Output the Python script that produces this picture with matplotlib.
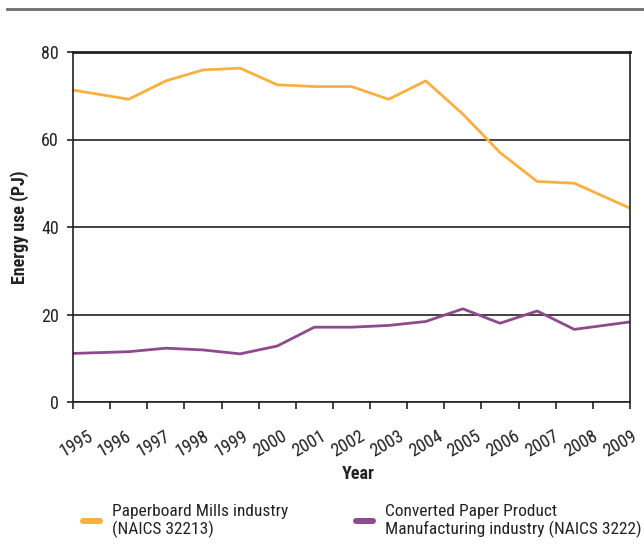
import numpy as np
import matplotlib
matplotlib.use('Agg')
import matplotlib.pyplot as plt
from matplotlib.lines import Line2D

plt.rcParams['font.family'] = ['Roboto Condensed', 'DejaVu Sans']

years = ['1995', '1996', '1997', '1998', '1999', '2000', '2001', '2002',
         '2003', '2004', '2005', '2006', '2007', '2008', '2009']
paperboard = [71.3, 69.2, 73.4, 75.9, 76.3, 72.5, 72.1, 72.1,
              69.2, 73.4, 65.8, 57.0, 50.4, 50.0, 44.3]
converted = [11.1, 11.5, 12.3, 11.9, 11.0, 12.8, 17.1, 17.1,
             17.5, 18.4, 21.3, 18.0, 20.8, 16.6, 18.3]

orange = '#F9B040'
purple = '#8E4A8C'
ink = '#222222'

# the original chart puts the first and last point on the axis edges and
# the rest half way between the 16 tick marks
x_pos = np.arange(len(years)) + 0.5
x_pos[0] = 0
x_pos[-1] = len(years)
label_pos = np.linspace(0.08, 14.73, len(years))

fig = plt.figure(figsize=(6.44, 5.44), dpi=100)
ax = fig.add_axes([73/644, 1 - 402/544, 557/644, 350/544])

ax.plot(x_pos, paperboard, color=orange, lw=2)
ax.plot(x_pos, converted, color=purple, lw=2)

ax.set_xlim(0, len(years))
ax.set_ylim(0, 80)
ax.set_yticks([0, 20, 40, 60, 80])
ax.yaxis.grid(True, color=ink, lw=1.2)
ax.set_axisbelow(True)

ax.set_xticks(np.arange(len(years) + 1))
ax.set_xticklabels([])
ax.set_xticks(label_pos, minor=True)
ax.set_xticklabels(years, minor=True, rotation=30, ha='center')
ax.tick_params(axis='x', which='minor', length=0, pad=18, labelsize=13, colors=ink)
ax.tick_params(axis='x', which='major', length=5, width=1.2, color=ink)
ax.tick_params(axis='y', length=4, width=1.2, color=ink, pad=6, labelsize=13, labelcolor=ink)

for s in ax.spines.values():
    s.set_color(ink)
    s.set_linewidth(1.2)
ax.spines['top'].set_linewidth(2)

ax.set_xlabel('Year', fontsize=13, fontweight='bold', color=ink)
ax.xaxis.set_label_coords(0.513, -0.18)
ax.set_ylabel('Energy use (PJ)', fontsize=13, fontweight='bold', color=ink)
ax.yaxis.set_label_coords(-0.079, 0.5)

# rule at the very top of the figure
fig.add_artist(Line2D([7/644, 1], [1 - 8.5/544, 1 - 8.5/544], color='#6E6E6E', lw=2))

legend_items = [
    (orange, 'Paperboard Mills industry\n(NAICS 32213)', 83),
    (purple, 'Converted Paper Product\nManufacturing industry (NAICS 3222)', 356),
]
for color, label, left in legend_items:
    h = Line2D([], [], color=color, lw=4.3, solid_capstyle='round')
    fig.legend([h], [label], loc='center left', bbox_to_anchor=(left/644, 1 - 521/544),
               frameon=False, fontsize=12.5, handlelength=0.98, handletextpad=0.67,
               borderpad=0, borderaxespad=0, labelcolor=ink)

fig.savefig('out.png', dpi=100)
